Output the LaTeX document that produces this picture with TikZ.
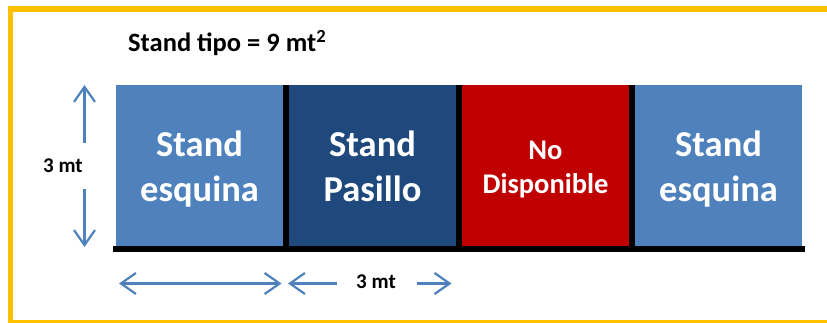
\documentclass[tikz,border=0pt]{standalone}
\usepackage{fontspec}
\setmainfont{Carlito}
\usepackage{xcolor}
\usetikzlibrary{positioning,arrows.meta}
\definecolor{standlight}{HTML}{4F81BD}
\definecolor{standdark}{HTML}{1F497D}
\definecolor{standred}{HTML}{C00000}
\definecolor{frameyellow}{HTML}{FFC000}

\begin{document}
\begin{tikzpicture}[x=1pt,y=-1pt,
	stand/.style={minimum width=167pt,minimum height=161pt,inner sep=0pt,outer sep=0pt},
	standtext/.style={inner sep=0pt,text=white,align=center,font=\bfseries\fontsize{36.5}{44}\selectfont},
	tip/.tip={Straight Barb[length=15pt,width=21pt]},
	dim/.style={draw=standlight,line width=2.2pt,-tip},
	dimlabel/.style={inner sep=0pt,font=\bfseries\fontsize{21}{25}\selectfont}]
		\useasboundingbox (0,0) rectangle (827,323);
		\draw[frameyellow,line width=5.5pt] (10.5,9) rectangle (840,322.5);
		%
		\node[anchor=base west,inner sep=0pt,font=\bfseries\fontsize{26.5}{30}\selectfont] (title) at (128,52) {Stand tipo = 9 mt\textsuperscript{2}};
		%
		\node[stand,fill=standlight] (S1) at (199.5,165.5) {};
		\node[stand,fill=standdark,right=6pt of S1] (S2) {};
		\node[stand,fill=standred,right=6pt of S2] (S3) {};
		\node[stand,fill=standlight,right=6pt of S3] (S4) {};
		\node[standtext] (T1) at ([yshift=-4.7pt]S1.center) {\strut Stand\\\strut esquina};
		\node[standtext] (T2) at ([yshift=-4.7pt]S2.center) {\strut Stand\\\strut Pasillo};
		\node[standtext,font=\bfseries\fontsize{28.5}{34}\selectfont] (T3) at ([yshift=-4.7pt]S3.center) {\strut No\\\strut Disponible};
		\node[standtext] (T4) at ([yshift=-4.7pt]S4.center) {\strut Stand\\\strut esquina};
		%
		\fill (S1.north east) rectangle (S2.south west);
		\fill (S2.north east) rectangle (S3.south west);
		\fill (S3.north east) rectangle (S4.south west);
		\draw[line width=6pt] ([shift={(-3,3)}]S1.south west) -- ([shift={(3,3)}]S4.south east);
		%
		\node[dimlabel,anchor=base] (high) at (63,172.7) {3 mt};
		\coordinate (vtop) at (84.5,85);
		\coordinate (vtopend) at (84.5,143);
		\coordinate (vbot) at (84.5,247);
		\coordinate (vbotend) at (84.5,189);
		\draw[dim] (vtopend) -- (vtop);
		\draw[dim] (vbotend) -- (vbot);
		%
		\node[dimlabel,anchor=base] (wide) at (376,288) {3 mt};
		\coordinate (hA) at (119,283.5);
		\coordinate (hB) at (281.5,283.5);
		\coordinate (hC) at (288,283.5);
		\coordinate (hCend) at (336.5,283.5);
		\coordinate (hDend) at (417,283.5);
		\coordinate (hD) at (451.5,283.5);
		\draw[dim,tip-tip] (hA) -- (hB);
		\draw[dim] (hCend) -- (hC);
		\draw[dim] (hDend) -- (hD);
\end{tikzpicture}
\end{document}
